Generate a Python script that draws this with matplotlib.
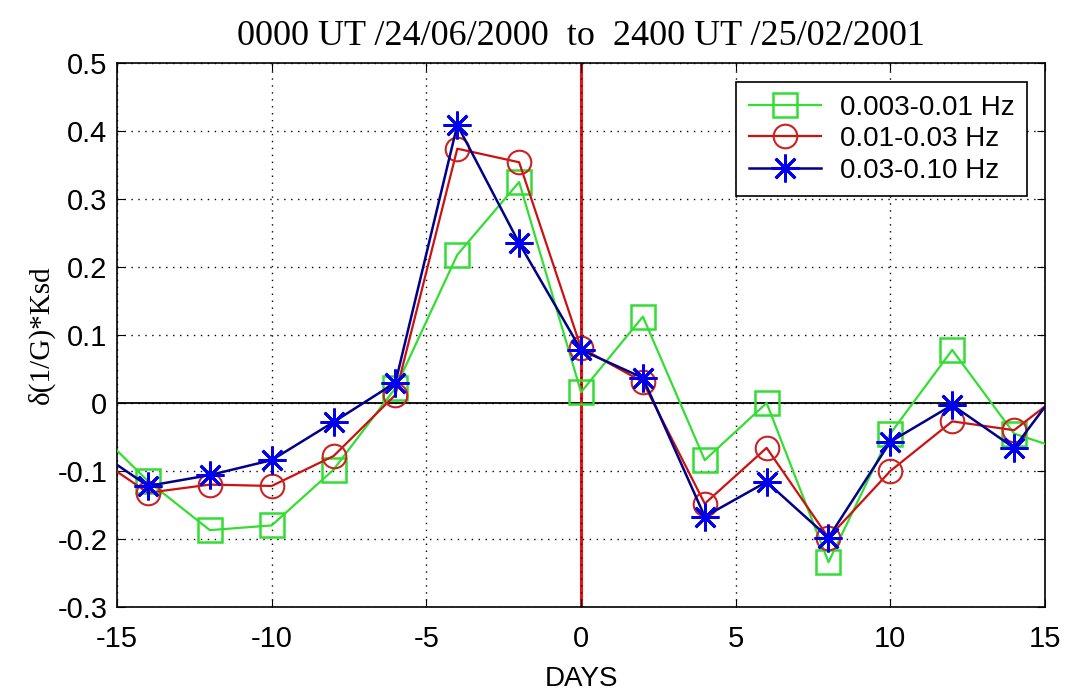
import matplotlib.pyplot as plt

# days relative to event
days = [-16, -14, -12, -10, -8, -6, -4, -2, 0, 2, 4, 6, 8, 10, 12, 14, 16]

# three frequency bands
g_low = [-0.025, -0.115, -0.187, -0.18, -0.098, 0.022, 0.218, 0.325, 0.016,
         0.127, -0.084, 0.0, -0.234, -0.045, 0.078, -0.045, -0.075]
g_mid = [-0.07, -0.132, -0.12, -0.122, -0.078, 0.012, 0.374, 0.354, 0.081,
         0.031, -0.148, -0.066, -0.198, -0.1, -0.027, -0.04, 0.03]
g_high = [-0.06, -0.122, -0.106, -0.084, -0.028, 0.03, 0.409, 0.235, 0.078,
          0.037, -0.167, -0.116, -0.198, -0.057, -0.003, -0.066, 0.055]

labels = ['0.003-0.01 Hz', '0.01-0.03 Hz', '0.03-0.10 Hz']

plt.rcParams['font.family'] = ['Liberation Sans', 'DejaVu Sans']
plt.rcParams['axes.unicode_minus'] = False

fig = plt.figure(figsize=(10.67, 6.9), dpi=100)
ax = fig.add_axes([0.1097, 0.1203, 0.8697, 0.7884])

ax.axhline(0, color='black', lw=1.3, zorder=1)
ax.axvline(0, color='#ee1111', lw=2.2, zorder=1)

ax.plot(days, g_low, color='#33dd33', lw=1.6, marker='s', ms=17,
        mfc='none', mew=1.8, label=labels[0], zorder=3)
ax.plot(days, g_mid, color='#cc1111', lw=1.6, marker='o', ms=17,
        mfc='none', mec='#cc2222', mew=1.5, label=labels[1], zorder=4)
ax.plot(days, g_high, color='#000088', lw=1.8, marker=(8, 2, 0), ms=20,
        mec='#0000ee', mew=2.0, label=labels[2], zorder=5)

ax.set_xlim(-15, 15)
ax.set_ylim(-0.3, 0.5)
ax.set_xticks(range(-15, 16, 5))
ax.set_yticks([-0.3, -0.2, -0.1, 0, 0.1, 0.2, 0.3, 0.4, 0.5])
ax.set_yticklabels(['-0.3', '-0.2', '-0.1', '0', '0.1', '0.2', '0.3', '0.4', '0.5'])
ax.tick_params(direction='in', labelsize=21, length=6, top=True, right=True)
ax.tick_params(axis='x', pad=13)
ax.tick_params(axis='y', pad=7)
ax.grid(True, color='black', linestyle=(0, (1, 4)), lw=1.0)
for s in ax.spines.values():
    s.set_linewidth(1.2)

ax.set_title('0000 UT /24/06/2000  to  2400 UT /25/02/2001',
             family=['Liberation Serif', 'DejaVu Serif'], fontsize=26, pad=13)
ax.set_ylabel('δ(1/G)*Ksd', family=['Liberation Serif', 'DejaVu Serif'],
              fontsize=21, labelpad=2)
ax.set_xlabel('DAYS', fontsize=20, labelpad=9)

leg = ax.legend(loc='upper right', bbox_to_anchor=(0.981, 0.965),
                borderaxespad=0, fontsize=20, fancybox=False,
                framealpha=1, edgecolor='black', handlelength=2.6,
                handletextpad=0.7, labelspacing=0.2, borderpad=0.45)
leg.get_frame().set_linewidth(1.2)

plt.savefig('out.png', dpi=100)
